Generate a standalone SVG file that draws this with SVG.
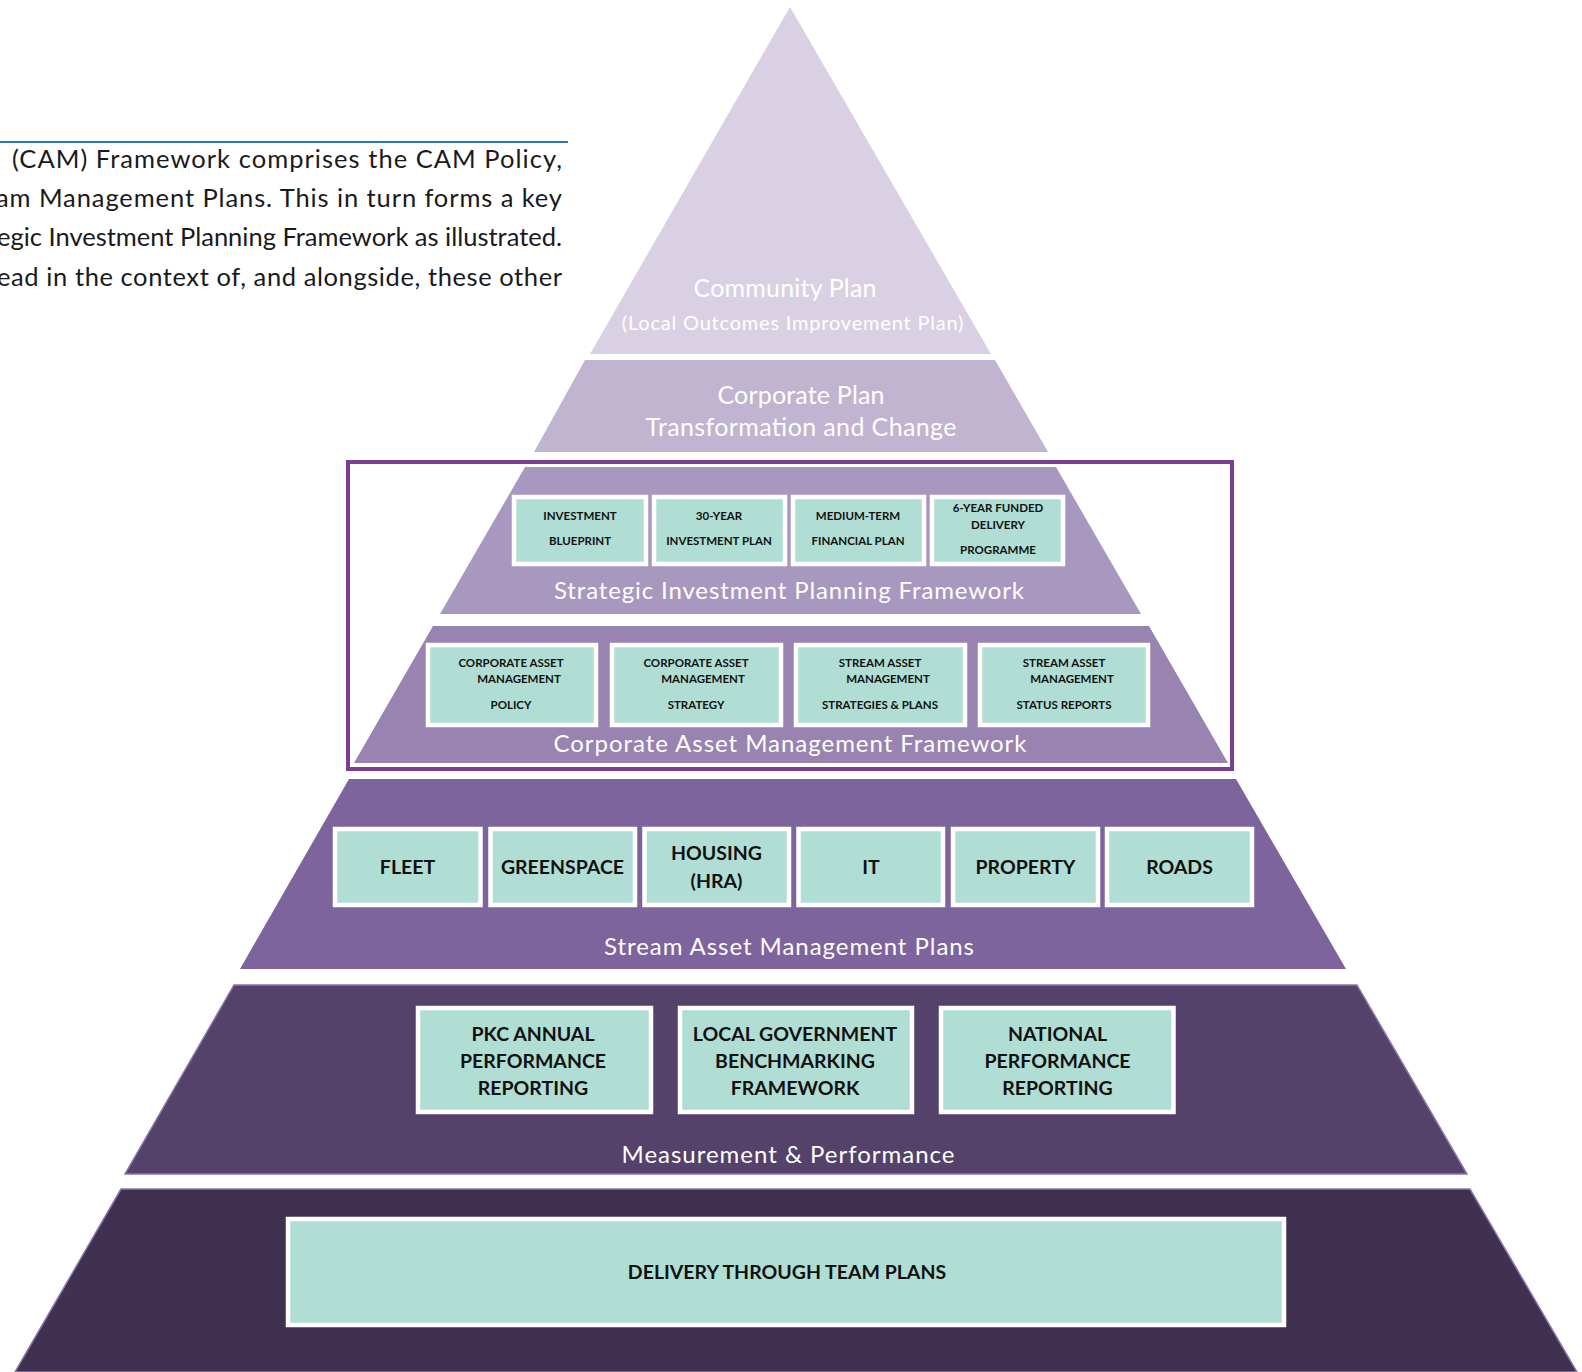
<svg xmlns="http://www.w3.org/2000/svg" width="1582" height="1372" viewBox="0 0 1582 1372">
<style>
.para{font-family:Lato,"Liberation Sans",sans-serif;font-size:25.5px;fill:#1a1a1a}
.lbl{font-family:Lato,"Liberation Sans",sans-serif;font-size:24px;fill:#ffffff;text-anchor:middle}
.lbl25{font-size:25px}
.sm{font-family:Lato,"Liberation Sans",sans-serif;font-size:11.5px;font-weight:bold;fill:#111;text-anchor:middle}
.md{font-family:Lato,"Liberation Sans",sans-serif;font-size:19.5px;font-weight:bold;fill:#111;text-anchor:middle}
.box{fill:#b0ded4;stroke:#ffffff;stroke-width:4.5}
.edge{stroke:#8d75ab;stroke-width:1.5}
</style>
<rect x="0" y="0" width="1582" height="1372" fill="#ffffff"/>
<g id="intro">
<line x1="0" y1="142" x2="568" y2="142" stroke="#2e75b6" stroke-width="2"/>
<text class="para" x="12" y="168" textLength="550" lengthAdjust="spacing">(CAM) Framework comprises the CAM Policy,</text>
<text class="para" x="-4" y="207" textLength="566" lengthAdjust="spacing">am Management Plans. This in turn forms a key</text>
<text class="para" x="-3" y="246" textLength="565" lengthAdjust="spacing">egic Investment Planning Framework as illustrated.</text>
<text class="para" x="-3" y="286" textLength="565" lengthAdjust="spacing">ead in the context of, and alongside, these other</text>
</g>
<g id="layer-community">
<polygon points="790,7 991,354 590,354" fill="#d9d1e3"/>
<text class="lbl lbl25" x="785" y="297" textLength="183" lengthAdjust="spacing">Community Plan</text>
<text class="lbl" x="793" y="330" style="font-size:20px;letter-spacing:0.8px">(Local Outcomes Improvement Plan)</text>
</g>
<g id="layer-corporate-plan">
<polygon points="585,360 995,360 1048,452 534,452" fill="#c1b4d0"/>
<text class="lbl lbl25" x="801" y="404" textLength="167" lengthAdjust="spacing">Corporate Plan</text>
<text class="lbl lbl25" x="801" y="436" textLength="311" lengthAdjust="spacing">Transformation and Change</text>
</g>
<g id="layer-sipf">
<polygon points="525,467 1056,467 1141,614 440,614" fill="#a898bf"/>
<text class="lbl" x="789" y="599" textLength="470" lengthAdjust="spacing">Strategic Investment Planning Framework</text>
</g>
<g id="layer-camf">
<polygon points="433,626 1149,626 1228,763 354,763" fill="#9983b0"/>
<text class="lbl" x="790" y="752" textLength="473" lengthAdjust="spacing">Corporate Asset Management Framework</text>
</g>
<g id="cam-frame">
<rect x="348" y="462" width="884" height="307" fill="none" stroke="#7b3f8e" stroke-width="4"/>
</g>
<g id="layer-stream">
<polygon points="349,779 1236,779 1346,969 240,969" fill="#7e649d"/>
<text class="lbl" x="789" y="955" textLength="370" lengthAdjust="spacing">Stream Asset Management Plans</text>
</g>
<g id="layer-measurement">
<polygon class="edge" points="234,985 1357,985 1467,1174 125,1174" fill="#54426b"/>
<text class="lbl" x="788" y="1163" textLength="333" lengthAdjust="spacing">Measurement &amp; Performance</text>
</g>
<g id="layer-delivery">
<polygon class="edge" points="121,1189 1470,1189 1577,1372 15,1372" fill="#413150"/>
</g>
<g id="sipf-boxes">
<g id="investment-blueprint"><rect class="box" x="514" y="497" width="132" height="67"/>
<text class="sm" x="580" y="520">INVESTMENT</text><text class="sm" x="580" y="545">BLUEPRINT</text></g>
<g id="investment-plan-30"><rect class="box" x="654" y="497" width="131" height="67"/>
<text class="sm" x="719" y="520">30-YEAR</text><text class="sm" x="719" y="545">INVESTMENT PLAN</text></g>
<g id="medium-term-financial"><rect class="box" x="793" y="497" width="131" height="67"/>
<text class="sm" x="858" y="520">MEDIUM-TERM</text><text class="sm" x="858" y="545">FINANCIAL PLAN</text></g>
<g id="funded-delivery"><rect class="box" x="932" y="497" width="131" height="67"/>
<text class="sm" x="998" y="512">6-YEAR FUNDED</text><text class="sm" x="998" y="529">DELIVERY</text><text class="sm" x="998" y="554">PROGRAMME</text></g>
</g>
<g id="camf-boxes">
<g id="cam-policy"><rect class="box" x="428" y="645" width="168" height="80"/>
<text class="sm" x="511" y="667">CORPORATE ASSET</text><text class="sm" x="519" y="683">MANAGEMENT</text><text class="sm" x="511" y="709">POLICY</text></g>
<g id="cam-strategy"><rect class="box" x="612" y="645" width="169" height="80"/>
<text class="sm" x="696" y="667">CORPORATE ASSET</text><text class="sm" x="703" y="683">MANAGEMENT</text><text class="sm" x="696" y="709">STRATEGY</text></g>
<g id="stream-strategies"><rect class="box" x="796" y="645" width="169" height="80"/>
<text class="sm" x="880" y="667">STREAM ASSET</text><text class="sm" x="888" y="683">MANAGEMENT</text><text class="sm" x="880" y="709">STRATEGIES &amp; PLANS</text></g>
<g id="stream-status"><rect class="box" x="980" y="645" width="168" height="80"/>
<text class="sm" x="1064" y="667">STREAM ASSET</text><text class="sm" x="1072" y="683">MANAGEMENT</text><text class="sm" x="1064" y="709">STATUS REPORTS</text></g>
</g>
<g id="stream-boxes">
<g id="fleet"><rect class="box" x="335" y="829" width="145.5" height="76"/><text class="md" x="407.5" y="874">FLEET</text></g>
<g id="greenspace"><rect class="box" x="490.5" y="829" width="144.5" height="76"/><text class="md" x="562.5" y="874">GREENSPACE</text></g>
<g id="housing"><rect class="box" x="644.5" y="829" width="144.5" height="76"/><text class="md" x="716.5" y="860">HOUSING</text><text class="md" x="716.5" y="888">(HRA)</text></g>
<g id="it"><rect class="box" x="798.5" y="829" width="144.5" height="76"/><text class="md" x="871" y="874">IT</text></g>
<g id="property"><rect class="box" x="953" y="829" width="145" height="76"/><text class="md" x="1025.5" y="874">PROPERTY</text></g>
<g id="roads"><rect class="box" x="1107" y="829" width="145" height="76"/><text class="md" x="1179.5" y="874">ROADS</text></g>
</g>
<g id="measurement-boxes">
<g id="pkc-annual"><rect class="box" x="418" y="1008" width="233" height="104"/>
<text class="md" x="533" y="1041">PKC ANNUAL</text><text class="md" x="533" y="1068">PERFORMANCE</text><text class="md" x="533" y="1095">REPORTING</text></g>
<g id="lg-benchmarking"><rect class="box" x="680" y="1008" width="232" height="104"/>
<text class="md" x="795" y="1041">LOCAL GOVERNMENT</text><text class="md" x="795" y="1068">BENCHMARKING</text><text class="md" x="795" y="1095">FRAMEWORK</text></g>
<g id="national-performance"><rect class="box" x="941" y="1008" width="232.5" height="104"/>
<text class="md" x="1057.5" y="1041">NATIONAL</text><text class="md" x="1057.5" y="1068">PERFORMANCE</text><text class="md" x="1057.5" y="1095">REPORTING</text></g>
</g>
<g id="delivery-box">
<rect class="box" x="288" y="1219" width="996" height="106"/>
<text class="md" x="787" y="1279">DELIVERY THROUGH TEAM PLANS</text>
</g>
<g id="connectors"/>
</svg>
